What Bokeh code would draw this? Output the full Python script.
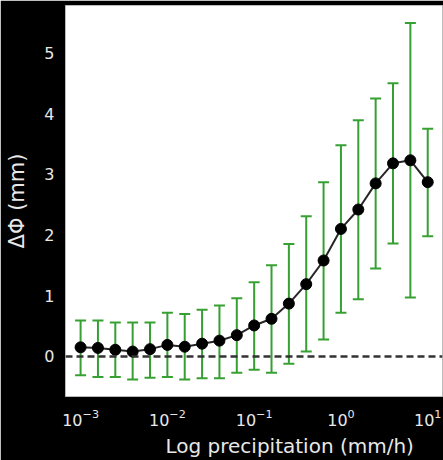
import numpy as np
from bokeh.plotting import figure
from bokeh.models import (ColumnDataSource, Whisker, TeeHead, Span, FixedTicker,
                          LogTickFormatter, Range1d, Title)
from bokeh.embed import file_html
from bokeh.resources import INLINE

# Precipitation bin centres (mm/h), spaced 0.2 decades apart
precip = [10 ** (-3 + 0.2 * k) for k in range(21)]
# Mean change in Phi (mm) per bin
dphi = [0.15, 0.14, 0.11, 0.08, 0.12, 0.19, 0.16, 0.21, 0.26, 0.35, 0.51,
        0.62, 0.87, 1.19, 1.58, 2.10, 2.42, 2.85, 3.18, 3.23, 2.87]
# Error bar bounds (mm)
upper = [0.59, 0.59, 0.56, 0.56, 0.56, 0.72, 0.70, 0.77, 0.84, 0.96, 1.22,
         1.50, 1.85, 2.31, 2.87, 3.48, 3.89, 4.25, 4.50, 5.49, 3.75]
lower = [-0.31, -0.34, -0.34, -0.38, -0.35, -0.34, -0.38, -0.36, -0.36, -0.27, -0.22,
         -0.27, -0.12, 0.08, 0.28, 0.72, 0.94, 1.45, 1.86, 0.97, 1.98]
x_ticks = [1e-3, 1e-2, 1e-1, 1e0, 1e1]
y_ticks = [0, 1, 2, 3, 4, 5]

src = ColumnDataSource(dict(x=precip, y=dphi, up=upper, lo=lower))

p = figure(width=443, height=460, x_axis_type="log",
           x_range=Range1d(6.7e-4, 14.8), y_range=Range1d(-0.66, 5.78),
           output_backend="svg", toolbar_location=None,
           min_border_left=65, min_border_right=1, min_border_top=5,
           min_border_bottom=0)
p.border_fill_color = "black"
p.background_fill_color = "white"
p.outline_line_color = "#bbbbbb"
p.outline_line_width = 1
p.grid.visible = False

font = "DejaVu Sans"
txt = "#e8e8e8"
for ax in (p.xaxis[0], p.yaxis[0]):
    ax.axis_line_color = None
    ax.major_tick_line_color = None
    ax.minor_tick_line_color = None
    ax.major_label_text_color = txt
    ax.major_label_text_font = font
    ax.major_label_text_font_size = "16px"
    ax.axis_label_text_color = txt
    ax.axis_label_text_font = font
    ax.axis_label_text_font_size = "21px"
    ax.axis_label_text_font_style = "normal"

p.xaxis.ticker = FixedTicker(ticks=x_ticks, minor_ticks=[])
p.xaxis.formatter = LogTickFormatter()
p.xaxis.major_label_standoff = 6

p.yaxis.ticker = FixedTicker(ticks=y_ticks, minor_ticks=[])
p.yaxis.major_label_standoff = 5
p.yaxis.axis_label = "ΔΦ (mm)"
p.yaxis.axis_label_standoff = 12

# x-axis title, shifted right from the frame's left edge
p.add_layout(Title(text="Log precipitation (mm/h)", align="left", offset=100,
                   text_font=font, text_font_size="20px", text_font_style="normal",
                   text_color=txt, standoff=6), "below")

# zero reference line
p.add_layout(Span(location=0, dimension="width", line_color="#333333",
                  line_width=2.5, line_dash="7 4"))

green = "#36a032"
p.add_layout(Whisker(source=src, base="x", upper="up", lower="lo",
                     line_color=green, line_width=2,
                     upper_head=TeeHead(size=11, line_color=green, line_width=2),
                     lower_head=TeeHead(size=11, line_color=green, line_width=2)))

p.line("x", "y", source=src, line_color="black", line_width=2, alpha=0.85)
p.scatter("x", "y", source=src, size=11, fill_color="black", line_color="black")

open("out.html", "w").write(file_html(p, INLINE))
